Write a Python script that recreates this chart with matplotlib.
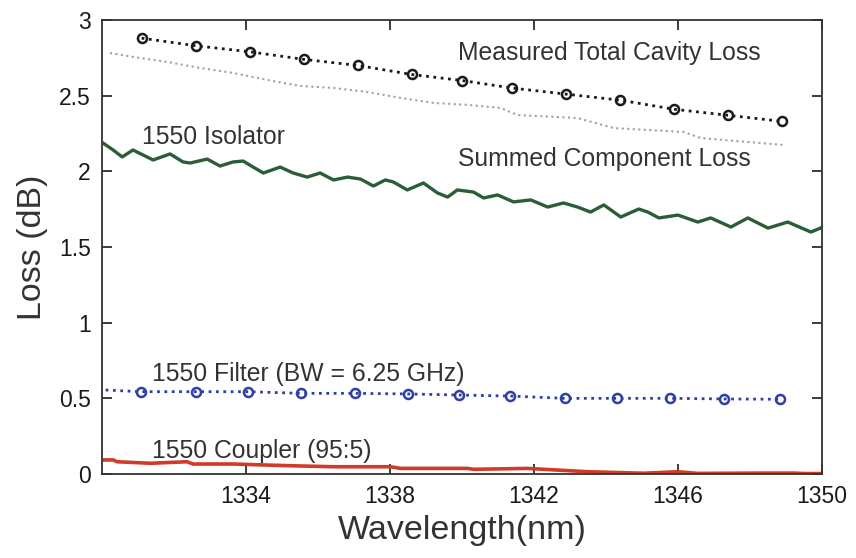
import matplotlib
matplotlib.use("Agg")
import matplotlib.pyplot as plt

plt.rcParams['font.family'] = ['Liberation Sans', 'DejaVu Sans']

# ---- data ----
measured_wl = [1331.1, 1332.6, 1334.1, 1335.6, 1337.1, 1338.6, 1340.0,
               1341.4, 1342.9, 1344.4, 1345.9, 1347.4, 1348.9]
measured_loss = [2.88, 2.83, 2.79, 2.74, 2.70, 2.64, 2.60,
                 2.55, 2.51, 2.47, 2.41, 2.37, 2.33]

summed_wl = [1330.22, 1330.86, 1331.81, 1332.73, 1333.64, 1334.59, 1335.51,
             1336.43, 1337.37, 1338.29, 1339.21, 1340.15, 1341.07, 1341.54,
             1343.21, 1344.21, 1346.16, 1346.63, 1348.94]
summed_loss = [2.782, 2.756, 2.723, 2.683, 2.650, 2.604, 2.564,
               2.551, 2.524, 2.485, 2.452, 2.439, 2.419, 2.372,
               2.352, 2.286, 2.260, 2.220, 2.174]

isolator_wl = [1330.04, 1330.31, 1330.56, 1330.86, 1331.14, 1331.42, 1331.89,
               1332.25, 1332.45, 1332.92, 1333.28, 1333.64, 1333.92, 1334.20,
               1334.48, 1334.95, 1335.31, 1335.70, 1336.06, 1336.43, 1336.82,
               1337.18, 1337.54, 1337.87, 1338.09, 1338.48, 1338.93, 1339.32,
               1339.60, 1339.87, 1340.32, 1340.60, 1340.99, 1341.43, 1341.91,
               1342.38, 1342.82, 1343.21, 1343.57, 1343.94, 1344.41, 1344.91,
               1345.16, 1345.47, 1346.00, 1346.55, 1346.91, 1347.47, 1347.94,
               1348.50, 1349.05, 1349.69, 1350.03]
isolator_loss = [2.185, 2.141, 2.095, 2.141, 2.108, 2.075, 2.115,
                 2.062, 2.055, 2.081, 2.035, 2.062, 2.068, 2.028,
                 1.989, 2.028, 1.989, 1.962, 1.989, 1.943, 1.962,
                 1.949, 1.903, 1.943, 1.930, 1.877, 1.923, 1.857,
                 1.830, 1.877, 1.863, 1.824, 1.844, 1.798, 1.811,
                 1.764, 1.791, 1.764, 1.731, 1.778, 1.698, 1.751,
                 1.731, 1.692, 1.711, 1.665, 1.692, 1.632, 1.692,
                 1.625, 1.665, 1.599, 1.632]

filter_line_wl = [1330.1, 1331.07, 1332.6, 1334.06, 1335.52, 1337.03, 1338.51,
                  1339.92, 1341.34, 1342.85, 1344.31, 1345.77, 1347.27, 1348.83]
filter_line_loss = [0.555, 0.544, 0.544, 0.544, 0.533, 0.533, 0.529,
                    0.522, 0.515, 0.500, 0.500, 0.500, 0.496, 0.494]
filter_wl = [1331.07, 1332.6, 1334.06, 1335.52, 1337.03, 1338.51, 1339.92,
             1341.34, 1342.85, 1344.31, 1345.77, 1347.27, 1348.83]
filter_loss = [0.544, 0.544, 0.544, 0.533, 0.533, 0.529, 0.522,
               0.515, 0.500, 0.500, 0.500, 0.496, 0.494]

coupler_wl = [1330.03, 1330.31, 1330.42, 1331.34, 1332.36, 1332.53, 1333.64,
              1334.59, 1335.51, 1336.43, 1337.37, 1338.01, 1338.29, 1339.21,
              1340.15, 1340.32, 1341.82, 1343.49, 1345.05, 1345.99, 1346.55,
              1348.30, 1349.22, 1349.50, 1350.03]
coupler_loss = [0.093, 0.093, 0.081, 0.071, 0.081, 0.066, 0.066,
                0.059, 0.053, 0.048, 0.048, 0.048, 0.037, 0.037,
                0.037, 0.031, 0.037, 0.015, 0.005, 0.015, 0.004,
                0.006, 0.006, 0.003, 0.003]

x_ticks = [1334, 1338, 1342, 1346, 1350]
y_ticks = [0, 0.5, 1, 1.5, 2, 2.5, 3]
y_ticklabels = ['0', '0.5', '1', '1.5', '2', '2.5', '3']

# ---- figure ----
fig = plt.figure(figsize=(8.56, 5.58), dpi=100)
ax = fig.add_axes([102 / 856, 1 - 474 / 558, 720 / 856, 454 / 558])

ax.plot(summed_wl, summed_loss, linestyle=':', color='#a0a0a0', linewidth=1.5)
ax.plot(measured_wl, measured_loss, linestyle=':', color='#1a1a1a', linewidth=2.0,
        marker='o', markersize=6.5, markerfacecolor='none', markeredgewidth=1.8)
ax.plot(isolator_wl, isolator_loss, color='#2b5e37', linewidth=2.4)
ax.plot(filter_line_wl, filter_line_loss, linestyle=':', color='#2f3fa8', linewidth=2.0)
ax.plot(filter_wl, filter_loss, linestyle='none', color='#2f3fa8',
        marker='o', markersize=6.5, markerfacecolor='none', markeredgewidth=1.8)
ax.plot(coupler_wl, coupler_loss, color='#d03a28', linewidth=2.6)

ax.set_xlim(1330, 1350)
ax.set_ylim(0, 3)
ax.set_xticks(x_ticks)
ax.set_yticks(y_ticks)
ax.set_yticklabels(y_ticklabels)
ax.tick_params(direction='in', length=7, width=1.2, top=True, right=True,
               labelsize=16.5, colors='#1a1a1a', pad=8)
for sp in ax.spines.values():
    sp.set_linewidth(1.3)
    sp.set_color('#333333')

ax.set_xlabel('Wavelength(nm)', fontsize=24.5, color='#333333', labelpad=5)
ax.set_ylabel('Loss (dB)', fontsize=24.5, color='#333333', labelpad=8)

txt_kw = dict(fontsize=17.8, color='#333333', va='center', ha='left')
ax.text(1339.9, 2.78, 'Measured Total Cavity Loss', **txt_kw)
ax.text(1339.9, 2.08, 'Summed Component Loss', **txt_kw)
ax.text(1331.1, 2.23, '1550 Isolator', **txt_kw)
ax.text(1331.4, 0.66, '1550 Filter (BW = 6.25 GHz)', **txt_kw)
ax.text(1331.4, 0.155, '1550 Coupler (95:5)', **txt_kw)

fig.savefig('out.png', dpi=100)
